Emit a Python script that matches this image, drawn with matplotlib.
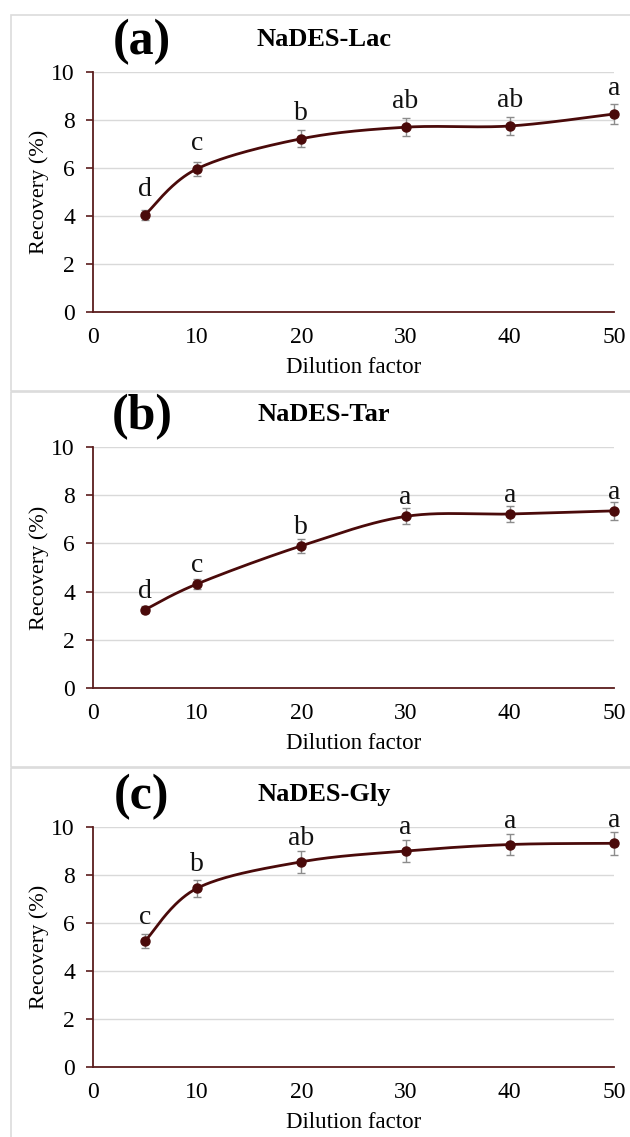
import numpy as np
import matplotlib
matplotlib.use("Agg")
import matplotlib.pyplot as plt
from matplotlib.patches import Rectangle

plt.rcParams["font.family"] = ["Liberation Serif", "DejaVu Serif"]

# --- data ---
dilution = [5, 10, 20, 30, 40, 50]

lac_rec = [4.05, 5.97, 7.22, 7.70, 7.75, 8.25]
lac_err = [0.20, 0.30, 0.35, 0.38, 0.38, 0.40]
lac_grp = ["d", "c", "b", "ab", "ab", "a"]

tar_rec = [3.25, 4.32, 5.90, 7.12, 7.22, 7.35]
tar_err = [0.15, 0.22, 0.28, 0.33, 0.35, 0.38]
tar_grp = ["d", "c", "b", "a", "a", "a"]

gly_rec = [5.25, 7.45, 8.55, 9.00, 9.27, 9.32]
gly_err = [0.28, 0.35, 0.45, 0.45, 0.45, 0.48]
gly_grp = ["c", "b", "ab", "a", "a", "a"]

panels = [
    ("(a)", "NaDES-Lac", lac_rec, lac_err, lac_grp),
    ("(b)", "NaDES-Tar", tar_rec, tar_err, tar_grp),
    ("(c)", "NaDES-Gly", gly_rec, gly_err, gly_grp),
]

W, H = 630, 1137
LINE = "#4a0a0a"
SPINE = "#5a1c1c"


def smooth(x, y, n=40):
    """Excel-style smoothed line: cubic Bezier with Catmull-Rom control points."""
    p = np.column_stack([x, y]).astype(float)
    pts = np.vstack([p[0], p, p[-1]])
    out = []
    t = np.linspace(0, 1, n)[:, None]
    for i in range(1, len(pts) - 2):
        p0, p1, p2, p3 = pts[i - 1], pts[i], pts[i + 1], pts[i + 2]
        c1 = p1 + (p2 - p0) / 6
        c2 = p2 - (p3 - p1) / 6
        seg = ((1 - t) ** 3) * p1 + 3 * ((1 - t) ** 2) * t * c1 + 3 * (1 - t) * t ** 2 * c2 + t ** 3 * p2
        out.append(seg)
    s = np.vstack(out)
    return s[:, 0], s[:, 1]


fig = plt.figure(figsize=(W / 100, H / 100), dpi=100)

# pixel layout of each panel: (box top, box bottom, y of value 10, y of value 0, label offset)
layout = [
    (15, 391, 72, 312, 0.80),
    (392, 767, 447, 688, 0.50),
    (768, 1140, 827, 1067, 0.70),
]
ax_left, ax_right = 93, 614

for (tag, title, rec, err, grp), (btop, bbot, ytop, ybot, off) in zip(panels, layout):
    # light gray panel frame
    fig.patches.append(Rectangle((11 / W, 1 - bbot / H), (W + 10 - 11) / W, (bbot - btop) / H,
                                 transform=fig.transFigure, fill=False, edgecolor="#dcdcdc",
                                 linewidth=1.2, zorder=0))

    ax = fig.add_axes([ax_left / W, 1 - ybot / H, (ax_right - ax_left) / W, (ybot - ytop) / H])
    ax.set_xlim(0, 50)
    ax.set_ylim(0, 10)
    ax.set_yticks(range(0, 11, 2))
    ax.set_xticks(range(0, 51, 10))
    ax.grid(axis="y", color="#d9d9d9", linewidth=1.0)
    ax.set_axisbelow(True)
    for side in ("top", "right"):
        ax.spines[side].set_visible(False)
    for side in ("left", "bottom"):
        ax.spines[side].set_color(SPINE)
        ax.spines[side].set_linewidth(1.3)
    ax.tick_params(axis="y", direction="out", length=5, width=1.2, color=SPINE, pad=8, labelsize=17)
    ax.tick_params(axis="x", length=0, pad=11, labelsize=17)

    sx, sy = smooth(dilution, rec)
    ax.plot(sx, sy, color=LINE, linewidth=2.0, zorder=3, clip_on=False)
    ax.errorbar(dilution, rec, yerr=err, fmt="none", ecolor="#8c8c8c", elinewidth=1.0,
                capsize=3, capthick=1.0, zorder=2, clip_on=False)
    ax.plot(dilution, rec, "o", color=LINE, markersize=6.5, zorder=4, clip_on=False)

    for xv, yv, g in zip(dilution, rec, grp):
        ax.text(xv, yv + off, g, ha="center", va="baseline", fontsize=20, color="#111111")

    ax.set_xlabel("Dilution factor", fontsize=16.5, labelpad=6)
    ax.set_ylabel("Recovery (%)", fontsize=16, labelpad=2)

    fig.text(142 / W, 1 - (ytop - 30) / H, tag, ha="center", va="center",
             fontsize=36, fontweight="bold")
    fig.text(324 / W, 1 - (ytop - 32) / H, title, ha="center", va="center",
             fontsize=19, fontweight="bold")

fig.savefig("out.png", dpi=100)
